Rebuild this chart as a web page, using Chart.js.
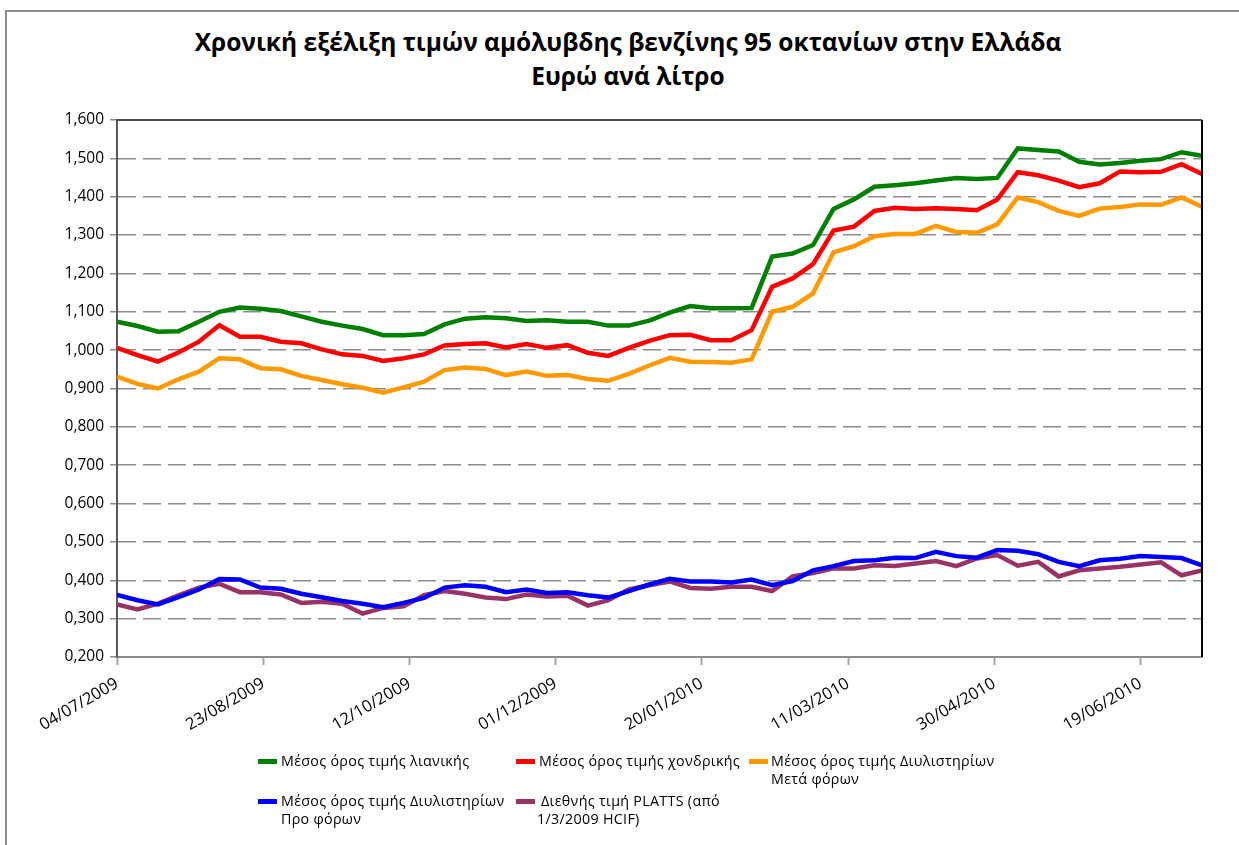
<!DOCTYPE html>
<html>
<head>
<meta charset="utf-8">
<script src="https://cdn.jsdelivr.net/npm/chart.js@4.4.1/dist/chart.umd.min.js"></script>
<style>
  html,body{margin:0;padding:0;background:#fff;}
  #wrap{position:relative;width:1239px;height:845px;overflow:hidden;}
  #frame{position:absolute;left:5px;top:10px;width:1260px;height:860px;border-top:2px solid #8c8c8c;border-left:2px solid #8c8c8c;box-sizing:border-box;}
  #title{position:absolute;left:0;width:1256px;top:25px;text-align:center;font-family:"Open Sans",sans-serif;font-weight:bold;font-size:24.5px;line-height:34px;color:#000;}
  canvas{position:absolute;left:0;top:0;}
  .lg{position:absolute;font-family:"Open Sans",sans-serif;font-size:14.3px;line-height:18px;color:#000;letter-spacing:0.3px;white-space:nowrap;}
  .sw{position:absolute;width:19px;height:5px;}
</style>
</head>
<body>
<div id="wrap">
  <div id="frame"></div>
  <div id="title">Χρονική εξέλιξη τιμών αμόλυβδης βενζίνης 95 οκτανίων στην Ελλάδα<br>Ευρώ ανά λίτρο</div>
  <canvas id="c" width="1239" height="845"></canvas>
  <div id="legend"></div>
</div>
<script>
const dates = ['04/07/2009','11/07/2009','18/07/2009','25/07/2009','01/08/2009','08/08/2009','15/08/2009','22/08/2009','29/08/2009',
  '05/09/2009','12/09/2009','19/09/2009','26/09/2009','03/10/2009','10/10/2009','17/10/2009','24/10/2009','31/10/2009',
  '07/11/2009','14/11/2009','21/11/2009','28/11/2009','05/12/2009','12/12/2009','19/12/2009','26/12/2009',
  '02/01/2010','09/01/2010','16/01/2010','23/01/2010','30/01/2010','06/02/2010','13/02/2010','20/02/2010','27/02/2010',
  '06/03/2010','13/03/2010','20/03/2010','27/03/2010','03/04/2010','10/04/2010','17/04/2010','24/04/2010',
  '01/05/2010','08/05/2010','15/05/2010','22/05/2010','29/05/2010','05/06/2010','12/06/2010','19/06/2010','26/06/2010',
  '03/07/2010','10/07/2010'];

const retail = [1.074,1.063,1.048,1.049,1.074,1.100,1.111,1.108,1.102,1.088,1.074,1.064,1.055,1.039,1.039,1.042,1.067,1.082,
  1.086,1.083,1.076,1.078,1.074,1.074,1.064,1.064,1.077,1.098,1.115,1.109,1.109,1.110,1.244,1.252,1.274,1.368,1.393,1.426,
  1.430,1.435,1.442,1.449,1.446,1.449,1.526,1.522,1.518,1.491,1.484,1.488,1.494,1.498,1.516,1.507];
const wholesale = [1.006,0.987,0.970,0.994,1.022,1.065,1.035,1.035,1.022,1.018,1.002,0.989,0.985,0.972,0.979,0.989,1.012,1.016,
  1.018,1.007,1.016,1.006,1.013,0.993,0.985,1.006,1.024,1.039,1.040,1.026,1.026,1.052,1.165,1.187,1.224,1.312,1.322,1.363,
  1.371,1.368,1.370,1.368,1.365,1.393,1.464,1.456,1.442,1.425,1.435,1.466,1.464,1.465,1.485,1.459];
const refineryAfterTax = [0.931,0.912,0.900,0.924,0.944,0.979,0.976,0.953,0.950,0.933,0.922,0.911,0.902,0.889,0.903,0.918,0.948,0.955,
  0.951,0.935,0.944,0.933,0.935,0.925,0.920,0.938,0.960,0.980,0.970,0.969,0.967,0.976,1.100,1.113,1.148,1.255,1.271,1.297,
  1.303,1.303,1.324,1.308,1.306,1.328,1.398,1.386,1.363,1.350,1.369,1.373,1.380,1.379,1.398,1.374];
const refineryPreTax = [0.362,0.348,0.337,0.356,0.376,0.403,0.402,0.381,0.378,0.365,0.356,0.346,0.339,0.330,0.341,0.354,0.381,0.387,
  0.383,0.369,0.376,0.367,0.369,0.361,0.355,0.372,0.389,0.404,0.397,0.397,0.394,0.402,0.387,0.398,0.426,0.437,0.450,0.452,
  0.459,0.458,0.474,0.463,0.459,0.479,0.477,0.468,0.448,0.437,0.452,0.456,0.463,0.461,0.458,0.439];
const platts = [0.337,0.324,0.339,0.361,0.381,0.391,0.369,0.369,0.363,0.341,0.344,0.339,0.313,0.328,0.332,0.361,0.372,0.365,
  0.355,0.351,0.363,0.358,0.360,0.334,0.348,0.376,0.387,0.397,0.380,0.378,0.383,0.383,0.372,0.410,0.419,0.431,0.431,0.439,
  0.437,0.444,0.450,0.437,0.457,0.466,0.438,0.448,0.410,0.426,0.431,0.435,0.441,0.447,0.413,0.426];

const xTickLabels = ['04/07/2009','23/08/2009','12/10/2009','01/12/2009','20/01/2010','11/03/2010','30/04/2010','19/06/2010'];
const yTicks = [0.2,0.3,0.4,0.5,0.6,0.7,0.8,0.9,1.0,1.1,1.2,1.3,1.4,1.5,1.6];

const seriesNames = ['Μέσος όρος τιμής λιανικής','Μέσος όρος τιμής χονδρικής','Μέσος όρος τιμής Διυλιστηρίων Μετά φόρων',
  'Μέσος όρος τιμής Διυλιστηρίων Προ φόρων','Διεθνής τιμή PLATTS (από 1/3/2009 HCIF)'];
const seriesColors = ['#008000','#FF0000','#FF9900','#0000FF','#993366'];

function dayNum(s){const p=s.split('/');return Date.UTC(+p[2],+p[1]-1,+p[0])/86400000;}
const d0 = dayNum(dates[0]);
const xs = dates.map(d=>dayNum(d)-d0);
const tickDays = xTickLabels.map(d=>dayNum(d)-d0);
const lastDay = xs[xs.length-1];

const allSeries = [retail,wholesale,refineryAfterTax,refineryPreTax,platts];
const datasets = allSeries.map((arr,k)=>({
  label: seriesNames[k],
  data: arr.map((v,i)=>({x:xs[i],y:v})),
  borderColor: seriesColors[k],
  backgroundColor: seriesColors[k],
  borderWidth: 4.5,
  pointRadius: 0,
  tension: 0,
  borderJoinStyle: 'miter',
  order: k+1
}));

const framePlugin = {
  id:'frame',
  afterDatasetsDraw(chart){
    const {ctx, chartArea:a} = chart;
    ctx.save();
    ctx.strokeStyle='#4d4d4d'; ctx.lineWidth=2;
    ctx.beginPath(); ctx.moveTo(a.left, a.top); ctx.lineTo(a.right, a.top); ctx.stroke();
    ctx.strokeStyle='#000'; ctx.lineWidth=2;
    ctx.beginPath(); ctx.moveTo(a.right, a.top); ctx.lineTo(a.right, a.bottom); ctx.stroke();
    ctx.restore();
  }
};

new Chart(document.getElementById('c'), {
  type:'line',
  data:{datasets},
  options:{
    responsive:false,
    animation:false,
    layout:{padding:{left:0,right:37,top:120,bottom:0}},
    plugins:{legend:{display:false},title:{display:false},tooltip:{enabled:false}},
    scales:{
      x:{
        type:'linear', min:0, max:lastDay,
        afterBuildTicks(s){ s.ticks = tickDays.map(v=>({value:v})); },
        afterFit(s){ s.height = 845-657; },
        ticks:{
          callback:(v,i)=>xTickLabels[i],
          minRotation:30, maxRotation:30, autoSkip:false,
          font:{family:'Open Sans', size:16.5}, color:'#000', padding:9
        },
        grid:{drawOnChartArea:false, drawTicks:true, tickLength:8, tickColor:'#a6a6a6', tickWidth:2},
        border:{color:'#8c8c8c', width:2}
      },
      y:{
        min:0.2, max:1.6,
        afterBuildTicks(s){ s.ticks = yTicks.map(v=>({value:v})); },
        afterFit(s){ s.width = 117; },
        ticks:{
          callback:(v)=>v.toFixed(3).replace('.',','),
          font:{family:'Open Sans', size:15.5}, color:'#000', padding:6
        },
        grid:{
          color:(c)=> (c.tick && (c.tick.value>1.59 || c.tick.value<0.21)) ? 'rgba(0,0,0,0)' : '#8c8c8c',
          lineWidth:1.5,
          tickLength:7, tickColor:'#8c8c8c', tickWidth:1.5, tickBorderDash:[]
        },
        border:{color:'#595959', width:2, dash:[18,7]}
      }
    }
  },
  plugins:[framePlugin]
});

// HTML legend
const legendPos = [
  {sx:258, tx:281, y:752, lines:['Μέσος όρος τιμής λιανικής']},
  {sx:516, tx:539, y:752, lines:['Μέσος όρος τιμής χονδρικής']},
  {sx:749, tx:771, y:752, lines:['Μέσος όρος τιμής Διυλιστηρίων','Μετά φόρων']},
  {sx:258, tx:281, y:792, lines:['Μέσος όρος τιμής Διυλιστηρίων','Προ φόρων']},
  {sx:516, tx:537, y:792, lines:['\u00a0Διεθνής τιμή PLATTS (από','1/3/2009 HCIF)']}
];
const lg = document.getElementById('legend');
legendPos.forEach((p,k)=>{
  const sw=document.createElement('div'); sw.className='sw';
  sw.style.left=p.sx+'px'; sw.style.top=(p.y+7)+'px'; sw.style.background=seriesColors[k];
  lg.appendChild(sw);
  const t=document.createElement('div'); t.className='lg';
  t.style.left=p.tx+'px'; t.style.top=p.y+'px';
  t.innerHTML=p.lines.join('<br>');
  lg.appendChild(t);
});
</script>
</body>
</html>
